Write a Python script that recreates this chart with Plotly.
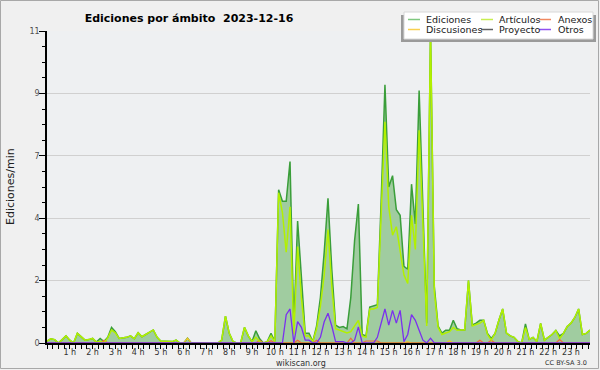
import numpy as np
import plotly.graph_objects as go

# ---------------- data (10-minute samples, 2023-12-16) ----------------
ediciones = [
    0.07, 0.15, 0.12, 0.00, 0.12, 0.25,   # 0 h
    0.10, 0.00, 0.34, 0.22, 0.10, 0.12,   # 1 h
    0.16, 0.03, 0.16, 0.05, 0.20, 0.55,   # 2 h
    0.40, 0.16, 0.18, 0.20, 0.25, 0.15,   # 3 h
    0.36, 0.22, 0.30, 0.38, 0.46, 0.20,   # 4 h
    0.06, 0.06, 0.05, 0.05, 0.10, 0.00,   # 5 h
    0.00, 0.17, 0.00, 0.00, 0.00, 0.00,   # 6 h
    0.00, 0.00, 0.00, 0.00, 0.10, 0.95,   # 7 h
    0.34, 0.05, 0.00, 0.00, 0.55, 0.25,   # 8 h
    0.05, 0.43, 0.15, 0.00, 0.05, 0.34,   # 9 h
    0.05, 5.40, 5.00, 5.00, 6.40, 0.60,   # 10 h
    4.30, 2.20, 0.34, 0.34, 0.05, 0.60,   # 11 h
    1.60, 3.20, 5.10, 2.60, 0.63, 0.55,   # 12 h
    0.58, 0.50, 1.60, 3.60, 4.90, 0.30,   # 13 h
    0.25, 1.27, 1.30, 1.35, 5.00, 9.10,   # 14 h
    5.50, 5.90, 4.70, 4.50, 2.70, 2.60,   # 15 h
    5.60, 4.20, 8.90, 4.80, 0.70, 11.00,  # 16 h
    2.00, 0.60, 0.35, 0.45, 0.45, 0.80,   # 17 h
    0.50, 0.46, 0.46, 2.20, 0.64, 0.70,   # 18 h
    0.80, 0.80, 0.34, 0.16, 0.34, 0.80,   # 19 h
    1.20, 0.35, 0.25, 0.20, 0.05, 0.00,   # 20 h
    0.67, 0.13, 0.20, 0.05, 0.69, 0.10,   # 21 h
    0.20, 0.30, 0.44, 0.25, 0.34, 0.58,   # 22 h
    0.70, 0.90, 1.20, 0.30, 0.34, 0.46,   # 23 h
]

articulos = [
    0.07, 0.15, 0.12, 0.00, 0.12, 0.25,
    0.10, 0.00, 0.34, 0.22, 0.10, 0.12,
    0.16, 0.03, 0.06, 0.00, 0.18, 0.46,
    0.36, 0.16, 0.18, 0.20, 0.25, 0.15,
    0.36, 0.22, 0.30, 0.38, 0.46, 0.20,
    0.06, 0.06, 0.05, 0.05, 0.10, 0.00,
    0.00, 0.00, 0.00, 0.00, 0.00, 0.00,
    0.00, 0.00, 0.00, 0.00, 0.10, 0.95,
    0.34, 0.05, 0.00, 0.00, 0.55, 0.25,
    0.05, 0.20, 0.05, 0.00, 0.05, 0.25,
    0.05, 5.30, 4.60, 3.20, 4.80, 0.30,
    3.40, 1.60, 0.25, 0.25, 0.05, 0.50,
    1.30, 2.40, 4.00, 2.00, 0.50, 0.45,
    0.40, 0.35, 0.40, 0.60, 0.80, 0.25,
    0.20, 1.20, 1.20, 1.25, 4.30, 7.80,
    4.80, 3.80, 4.10, 3.20, 2.40, 2.10,
    4.50, 3.30, 7.50, 4.20, 0.60, 11.00,
    1.80, 0.55, 0.30, 0.35, 0.40, 0.55,
    0.45, 0.46, 0.46, 2.20, 0.60, 0.65,
    0.70, 0.80, 0.30, 0.10, 0.34, 0.80,
    1.20, 0.35, 0.25, 0.20, 0.05, 0.00,
    0.55, 0.13, 0.20, 0.05, 0.69, 0.10,
    0.20, 0.30, 0.44, 0.15, 0.34, 0.58,
    0.70, 0.90, 1.20, 0.30, 0.34, 0.46,
]

otros = [0.0] * 62 + [
    0.00, 1.00, 1.20, 0.00,             # 62-65
    0.75, 0.55, 0.10, 0.10, 0.00, 0.00,  # 66-71
    0.20, 0.75, 1.05, 0.60, 0.05, 0.05,  # 72-77
    0.05, 0.00, 0.00, 0.10, 0.57, 0.00,  # 78-83
    0.00, 0.00, 0.00, 0.20, 0.70, 1.20,  # 84-89
    0.63, 1.15, 0.70, 1.15, 0.05, 0.30,  # 90-95
    1.00, 0.80, 0.45, 0.10, 0.00, 0.17,  # 96-101
] + [0.0] * 42

anexos_idx = [15, 56, 59, 66, 71, 80, 84, 85, 86, 87, 114, 117, 135]
anexos_val = [0.10, 0.10, 0.08, 0.10, 0.10, 0.17, 0.07, 0.07, 0.07, 0.07, 0.10, 0.10, 0.12]
discusiones_idx = [37, 95, 106]
discusiones_val = [0.17, 0.05, 0.08]
proyecto = [0.0] * 144

anexos = [0.0] * 144
for k, v in zip(anexos_idx, anexos_val):
    anexos[k] = v
discusiones = [0.0] * 144
for k, v in zip(discusiones_idx, discusiones_val):
    discusiones[k] = v

hour_vals = list(range(1, 24))
hour_text = [f"{h} h" for h in hour_vals]
y_tick_vals = [0, 2.2, 4.4, 6.6, 8.8, 11]
y_tick_text = ["0", "2", "4", "7", "9", "11"]

legend_names = ["Ediciones", "Artículos", "Anexos", "Discusiones", "Proyecto", "Otros"]
legend_colors = ["#80c880", "#c8ee50", "#f08860", "#f8d050", "#606060", "#9050f0"]

# ---------------- figure ----------------
t = np.arange(len(ediciones)) / 6.0   # hours since midnight

W, H = 600, 370
L, R, T, B = 47, 10, 31, 27
PW, PH = W - L - R, H - T - B


def fx(px):
    return (px - L) / PW


def fy(py):
    return (H - B - py) / PH


FONT = "DejaVu Sans"
fig = go.Figure()
fig.add_trace(go.Scatter(x=t, y=ediciones, mode="lines", fill="tozeroy",
                         fillcolor="#a0cca0", line=dict(color="#3a9e3a", width=1.5),
                         name="Ediciones", showlegend=False))
fig.add_trace(go.Scatter(x=t, y=proyecto, mode="lines",
                         line=dict(color="#505050", width=1.2), name="Proyecto", showlegend=False))
fig.add_trace(go.Scatter(x=t, y=discusiones, mode="lines",
                         line=dict(color="#f0c828", width=1.2), name="Discusiones", showlegend=False))
fig.add_trace(go.Scatter(x=t, y=anexos, mode="lines",
                         line=dict(color="#f06a3a", width=1.2), name="Anexos", showlegend=False))
fig.add_trace(go.Scatter(x=t, y=articulos, mode="lines",
                         line=dict(color="#b2f000", width=1.5), name="Artículos", showlegend=False))
fig.add_trace(go.Scatter(x=t, y=otros, mode="lines",
                         line=dict(color="#7a30ee", width=1.3), name="Otros", showlegend=False))

shapes = []
annotations = []
# outer frame
shapes.append(dict(type="rect", xref="paper", yref="paper",
                   x0=fx(0.5), x1=fx(598.5), y0=fy(368.5), y1=fy(0.5),
                   line=dict(color="#a8a8a8", width=1), layer="below"))
# legend box with shadow
shapes.append(dict(type="rect", xref="paper", yref="paper",
                   x0=fx(401), x1=fx(596), y0=fy(42), y1=fy(15),
                   line=dict(width=0), fillcolor="#9a9a9a"))
shapes.append(dict(type="rect", xref="paper", yref="paper",
                   x0=fx(404), x1=fx(593), y0=fy(39), y1=fy(12),
                   line=dict(color="#d8d8d8", width=1), fillcolor="#ffffff"))
col_sym = [408, 481, 539]
col_txt = [424, 497, 556]
row_y = [19.5, 29.5]
for k, (nm, col) in enumerate(zip(legend_names, legend_colors)):
    r, c = divmod(k, 3)
    shapes.append(dict(type="line", xref="paper", yref="paper",
                       x0=fx(col_sym[c]), x1=fx(col_sym[c] + 12),
                       y0=fy(row_y[r]), y1=fy(row_y[r]),
                       line=dict(color=col, width=1.5)))
    annotations.append(dict(text=nm, xref="paper", yref="paper",
                            x=fx(col_txt[c]), y=fy(row_y[r]), xanchor="left", yanchor="middle",
                            showarrow=False, font=dict(family=FONT, size=9.5, color="#202020")))

annotations.append(dict(text="Ediciones/min", xref="paper", yref="paper", x=fx(10), y=0.5,
                        textangle=-90, showarrow=False, xanchor="center", yanchor="middle",
                        font=dict(family=FONT, size=11, color="#202020")))
annotations.append(dict(text="wikiscan.org", xref="paper", yref="paper", x=fx(300.5), y=fy(363),
                        showarrow=False, xanchor="center", yanchor="middle",
                        font=dict(family=FONT, size=8, color="#303030")))
annotations.append(dict(text="CC BY-SA 3.0", xref="paper", yref="paper", x=fx(589), y=fy(363),
                        showarrow=False, xanchor="right", yanchor="middle",
                        font=dict(family=FONT, size=6.5, color="#303030")))

fig.update_layout(
    width=W, height=H,
    margin=dict(l=L, r=R, t=T, b=B, pad=0),
    paper_bgcolor="#f0f0f0", plot_bgcolor="#eef0f2",
    showlegend=False,
    title=dict(text="Ediciones por ámbito\u00a0\u00a02023-12-16", x=189 / W, xanchor="center",
               y=1 - 18 / H, yanchor="middle",
               font=dict(family=FONT, size=11, color="#000000", weight="bold")),
    shapes=shapes, annotations=annotations,
    xaxis=dict(range=[0, t[-1]], tickmode="array", tickvals=hour_vals, ticktext=hour_text,
               ticks="outside", ticklen=4, tickcolor="black", tickwidth=1,
               ticklabelstandoff=-3,
               showline=True, linecolor="black", linewidth=1.5, showgrid=False, zeroline=False,
               tickfont=dict(family=FONT, size=8, color="#303030"),
               minor=dict(tick0=0, dtick=0.25, ticks="outside", ticklen=4, tickcolor="black",
                          showgrid=False)),
    yaxis=dict(range=[0, 11], tickmode="array", tickvals=y_tick_vals, ticktext=y_tick_text,
               ticks="outside", ticklen=6, tickcolor="black", tickwidth=1,
               ticklabelstandoff=-2,
               showline=True, linecolor="black", linewidth=1.5, showgrid=True,
               gridcolor="#d0d0d0", gridwidth=1, zeroline=False,
               tickfont=dict(family=FONT, size=8, color="#505050"),
               minor=dict(tick0=0, dtick=0.55, ticks="outside", ticklen=3, tickcolor="black",
                          showgrid=False)),
)

fig.write_html("out.html", config={"displayModeBar": False},
               post_script="document.body.style.margin='0';document.body.style.padding='0';")
